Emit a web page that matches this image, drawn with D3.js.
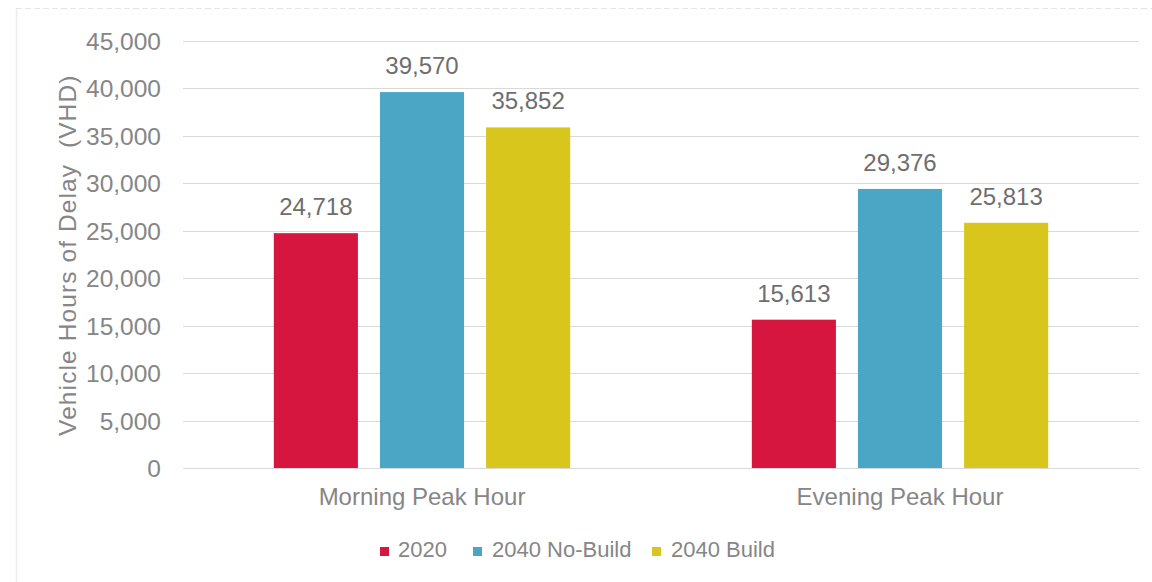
<!DOCTYPE html>
<html>
<head>
<meta charset="utf-8">
<script src="https://cdn.jsdelivr.net/npm/d3@7"></script>
<style>
  html, body { margin: 0; padding: 0; background: #fff; }
  svg { display: block; font-family: Arial, "Liberation Sans", sans-serif; }
</style>
</head>
<body>
<svg id="chart" width="1152" height="582"></svg>
<script>
// ---- data ----
const categories = ["Morning Peak Hour", "Evening Peak Hour"];
const seriesNames = ["2020", "2040 No-Build", "2040 Build"];
const values2020 = [24718, 15613];
const values2040NoBuild = [39570, 29376];
const values2040Build = [35852, 25813];
const yTicks = [0, 5000, 10000, 15000, 20000, 25000, 30000, 35000, 40000, 45000];
const seriesColors = ["#d6163f", "#4ba6c6", "#d8c61c"];
const yTitle = "Vehicle Hours of Delay  (VHD)";

const seriesValues = [values2020, values2040NoBuild, values2040Build];

const svg = d3.select("#chart");
const plot = { left: 183, right: 1139, top: 40.5, bottom: 468 };

// faint frame remnants of the scanned page
svg.append("line").attr("x1", 16.5).attr("x2", 16.5).attr("y1", 8).attr("y2", 582)
  .attr("stroke", "#ececec").attr("stroke-width", 1.5);
svg.append("line").attr("x1", 16).attr("x2", 1152).attr("y1", 8.5).attr("y2", 8.5)
  .attr("stroke", "#e6e6e6").attr("stroke-width", 1).attr("stroke-dasharray", "6,3");

const y = d3.scaleLinear().domain([0, 45000]).range([plot.bottom, plot.top]);
const x0 = d3.scaleBand().domain(categories).range([plot.left, plot.right])
  .paddingInner(0.38).paddingOuter(0.19);
const x1 = d3.scaleBand().domain(seriesNames).range([0, x0.bandwidth()]).paddingInner(0.2075);
const color = d3.scaleOrdinal().domain(seriesNames).range(seriesColors);
const fmt = d3.format(",");

// gridlines
svg.append("g").selectAll("line").data(yTicks).join("line")
  .attr("x1", plot.left).attr("x2", plot.right)
  .attr("y1", d => Math.round(y(d)) + 0.5).attr("y2", d => Math.round(y(d)) + 0.5)
  .attr("stroke", "#d9d9d9").attr("stroke-width", 1);

// y axis labels
const yAxis = d3.axisLeft(y).tickValues(yTicks).tickFormat(fmt).tickSize(0).tickPadding(0);
const gy = svg.append("g").attr("transform", `translate(${161},0)`).call(yAxis);
gy.select(".domain").remove();
gy.selectAll("text").attr("font-size", 24.5).attr("fill", "#868686")
  .attr("font-family", "Arial, 'Liberation Sans', sans-serif").attr("dy", "0.36em");

// y title
svg.append("text")
  .attr("transform", `translate(76,${(plot.top + plot.bottom) / 2 + 1}) rotate(-90)`)
  .attr("text-anchor", "middle").attr("font-size", 24.5).attr("fill", "#868686")
  .attr("letter-spacing", 1.1)
  .attr("xml:space", "preserve")
  .text(yTitle);

// bars
const groups = svg.append("g").selectAll("g").data(categories).join("g")
  .attr("transform", d => `translate(${x0(d)},0)`);
groups.selectAll("rect")
  .data((c, ci) => seriesNames.map((s, si) => ({ s, v: seriesValues[si][ci] })))
  .join("rect")
  .attr("x", d => x1(d.s)).attr("width", x1.bandwidth())
  .attr("y", d => y(d.v)).attr("height", d => y(0) - y(d.v))
  .attr("fill", d => color(d.s));
groups.selectAll("text.val")
  .data((c, ci) => seriesNames.map((s, si) => ({ s, v: seriesValues[si][ci] })))
  .join("text").attr("class", "val")
  .attr("x", d => x1(d.s) + x1.bandwidth() / 2).attr("y", d => y(d.v) - 18)
  .attr("text-anchor", "middle").attr("font-size", 24).attr("fill", "#6e6e6e")
  .text(d => fmt(d.v));

// x axis labels
const xAxis = d3.axisBottom(x0).tickSize(0).tickPadding(0);
const gx = svg.append("g").attr("transform", `translate(0,${plot.bottom + 20})`).call(xAxis);
gx.select(".domain").remove();
gx.selectAll("text").attr("font-size", 24).attr("fill", "#868686")
  .attr("font-family", "Arial, 'Liberation Sans', sans-serif").attr("dy", "0.71em");

// legend
const legendX = [380, 473, 652];
const legend = svg.append("g").selectAll("g").data(seriesNames).join("g")
  .attr("transform", (d, i) => `translate(${legendX[i]},0)`);
legend.append("rect").attr("x", 0).attr("y", 547).attr("width", 9).attr("height", 9)
  .attr("fill", d => color(d));
legend.append("text").attr("x", (d, i) => i === 0 ? 18 : 19).attr("y", 557)
  .attr("font-size", 22).attr("fill", "#868686").text(d => d);
</script>
</body>
</html>
